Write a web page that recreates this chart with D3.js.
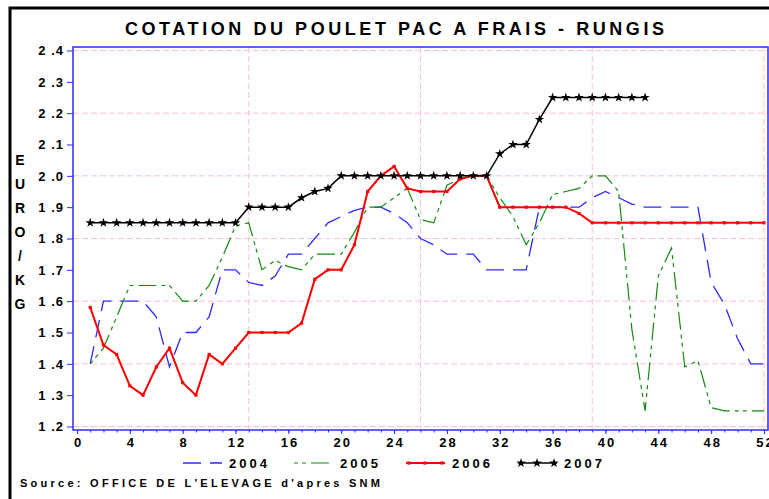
<!DOCTYPE html>
<html>
<head>
<meta charset="utf-8">
<script src="https://cdn.jsdelivr.net/npm/d3@7"></script>
<style>
  body { margin: 0; background: #fff; }
  text { font-family: "Liberation Sans", Arial, sans-serif; font-weight: bold; fill: #000; }
</style>
</head>
<body>
<script>
// weekly prices, euro / kg
const weeks = d3.range(1, 53);
const v2004 = [1.40, 1.60, 1.60, 1.60, 1.60, 1.55, 1.39, 1.50, 1.50, 1.55,
  1.70, 1.70, 1.66, 1.65, 1.68, 1.75, 1.75, 1.80, 1.85, 1.87,
  1.89, 1.90, 1.90, 1.88, 1.85, 1.80, 1.78, 1.75, 1.75, 1.75,
  1.70, 1.70, 1.70, 1.70, 1.90, 1.90, 1.90, 1.90, 1.93, 1.95,
  1.93, 1.91, 1.90, 1.90, 1.90, 1.90, 1.90, 1.66, 1.59, 1.48,
  1.40, 1.40];
const v2005 = [1.40, 1.45, 1.55, 1.65, 1.65, 1.65, 1.65, 1.60, 1.60, 1.65,
  1.74, 1.84, 1.85, 1.70, 1.73, 1.71, 1.70, 1.75, 1.75, 1.75,
  1.82, 1.90, 1.90, 1.93, 1.96, 1.86, 1.85, 1.97, 1.99, 2.00,
  2.00, 1.93, 1.87, 1.78, 1.85, 1.94, 1.95, 1.96, 2.00, 2.00,
  1.95, 1.51, 1.25, 1.68, 1.77, 1.39, 1.41, 1.26, 1.25, 1.25,
  1.25, 1.25];
const v2006 = [1.58, 1.46, 1.43, 1.33, 1.30, 1.39, 1.45, 1.34, 1.30, 1.43,
  1.40, 1.45, 1.50, 1.50, 1.50, 1.50, 1.53, 1.67, 1.70, 1.70,
  1.78, 1.95, 2.00, 2.03, 1.96, 1.95, 1.95, 1.95, 1.99, 2.00,
  2.00, 1.90, 1.90, 1.90, 1.90, 1.90, 1.90, 1.88, 1.85, 1.85,
  1.85, 1.85, 1.85, 1.85, 1.85, 1.85, 1.85, 1.85, 1.85, 1.85,
  1.85, 1.85];
const v2007 = [1.85, 1.85, 1.85, 1.85, 1.85, 1.85, 1.85, 1.85, 1.85, 1.85,
  1.85, 1.85, 1.90, 1.90, 1.90, 1.90, 1.93, 1.95, 1.96, 2.00,
  2.00, 2.00, 2.00, 2.00, 2.00, 2.00, 2.00, 2.00, 2.00, 2.00,
  2.00, 2.07, 2.10, 2.10, 2.18, 2.25, 2.25, 2.25, 2.25, 2.25,
  2.25, 2.25, 2.25];
const years = ["2004", "2005", "2006", "2007"];
const xTicks = [0, 4, 8, 12, 16, 20, 24, 28, 32, 36, 40, 44, 48, 52];
const yTicks = [1.2, 1.3, 1.4, 1.5, 1.6, 1.7, 1.8, 1.9, 2.0, 2.1, 2.2, 2.3, 2.4];
const yGrid = [1.2, 1.4, 1.6, 1.8, 2.0, 2.2, 2.4];
const xGrid = [13, 26, 39, 52];

const width = 769, height = 499;
const frame = {left: 73, right: 768, top: 47, bottom: 430};

const svg = d3.select("body").append("svg")
    .attr("width", width)
    .attr("height", height);

const x = d3.scaleLinear().domain([0, 52]).range([77, 764]);
const y = d3.scaleLinear().domain([1.2, 2.4]).range([426.5, 50.5]);

// outer black border (cut off at right and bottom)
svg.append("path")
    .attr("d", `M10,${height} V8 H${width}`)
    .attr("fill", "none")
    .attr("stroke", "#000")
    .attr("stroke-width", 3);

svg.append("text")
    .attr("x", 125)
    .attr("y", 35)
    .attr("textLength", 539)
    .attr("lengthAdjust", "spacing")
    .style("font-size", "18px")
    .text("COTATION DU POULET PAC A FRAIS - RUNGIS");

// grid
svg.append("g")
  .selectAll("line")
  .data(yGrid)
  .join("line")
    .attr("x1", frame.left)
    .attr("x2", frame.right)
    .attr("y1", d => y(d))
    .attr("y2", d => y(d))
    .attr("stroke", "#ffc0cb")
    .attr("stroke-dasharray", "6,3");

svg.append("g")
  .selectAll("line")
  .data(xGrid)
  .join("line")
    .attr("x1", d => x(d))
    .attr("x2", d => x(d))
    .attr("y1", frame.top)
    .attr("y2", frame.bottom)
    .attr("stroke", "#ffc0cb")
    .attr("stroke-dasharray", "6,3");

// axes
const xAxis = g => g
    .attr("transform", `translate(0,${frame.bottom})`)
    .call(d3.axisBottom(x).tickValues(xTicks).tickSize(4).tickPadding(4).tickFormat(d3.format("d")))
    .call(g => g.select(".domain").remove())
    .call(g => g.selectAll(".tick line").attr("stroke", "#2b2bff"))
    .call(g => g.selectAll(".tick text")
        .attr("font-size", 13)
        .attr("font-family", null)
        .style("letter-spacing", "2px")
        .attr("dx", 1));

const xMinor = g => g
    .attr("transform", `translate(0,${frame.bottom})`)
    .call(d3.axisBottom(x).tickValues(weeks).tickSize(2.5).tickFormat(""))
    .call(g => g.select(".domain").remove())
    .call(g => g.selectAll(".tick line").attr("stroke", "#2b2bff"));

const yAxis = g => g
    .attr("transform", `translate(${frame.left},0)`)
    .call(d3.axisLeft(y).tickValues(yTicks).tickSize(6).tickPadding(3)
        .tickFormat(d => d.toFixed(1).replace(".", " .")))
    .call(g => g.select(".domain").remove())
    .call(g => g.selectAll(".tick line").attr("stroke", "#2b2bff"))
    .call(g => g.selectAll(".tick text")
        .attr("font-size", 13)
        .attr("font-family", null)
        .style("letter-spacing", "1px"));

svg.append("g").call(xMinor);
svg.append("g").call(xAxis);
svg.append("g").call(yAxis);

svg.append("rect")
    .attr("x", frame.left)
    .attr("y", frame.top)
    .attr("width", frame.right - frame.left)
    .attr("height", frame.bottom - frame.top)
    .attr("fill", "none")
    .attr("stroke", "#2b2bff")
    .attr("stroke-width", 1.5);

// y label, one letter per line
const ylab = svg.append("text")
    .attr("text-anchor", "middle")
    .style("font-size", "14px");
ylab.selectAll("tspan")
  .data("EURO/KG".split(""))
  .join("tspan")
    .attr("x", 20)
    .attr("y", (d, i) => 165 + i * 24)
    .text(d => d);

// series
const styles = [
  {values: v2004, color: "#2b2bff", width: 1.3, dash: "18,9", mark: null},
  {values: v2005, color: "#138a13", width: 1.2, dash: "4,4,4,5,18,5", mark: null},
  {values: v2006, color: "#ff0000", width: 2, dash: null, mark: d3.symbolSquare},
  {values: v2007, color: "#000000", width: 1.5, dash: null, mark: d3.symbolStar}
];

const line = d3.line()
    .x(d => x(d[0]))
    .y(d => y(d[1]));

styles.forEach((s, k) => {
  const pts = s.values.map((v, i) => [weeks[i], v]);
  svg.append("path")
      .datum(pts)
      .attr("fill", "none")
      .attr("stroke", s.color)
      .attr("stroke-width", s.width)
      .attr("stroke-dasharray", s.dash)
      .attr("d", line);
  if (s.mark) {
    svg.append("g")
      .selectAll("path")
      .data(pts)
      .join("path")
        .attr("transform", d => `translate(${x(d[0])},${y(d[1])})`)
        .attr("d", d3.symbol(s.mark, s.mark === d3.symbolStar ? 28 : 10))
        .attr("fill", s.color);
  }
});

// legend
const legX = [183, 294, 406, 518];
const leg = svg.append("g")
  .selectAll("g")
  .data(styles)
  .join("g")
    .attr("transform", (d, i) => `translate(${legX[i]},463)`);

leg.append("line")
    .attr("x1", 0)
    .attr("x2", 39)
    .attr("stroke", d => d.color)
    .attr("stroke-width", d => d.width)
    .attr("stroke-dasharray", d => d.dash);

leg.filter(d => d.mark)
  .selectAll("path")
  .data(d => [3, 19, 36].map(p => ({p, d})))
  .join("path")
    .attr("transform", e => `translate(${e.p},0)`)
    .attr("d", e => d3.symbol(e.d.mark, e.d.mark === d3.symbolStar ? 28 : 10)())
    .attr("fill", e => e.d.color);

leg.append("text")
    .attr("x", 46)
    .attr("dy", "0.35em")
    .style("font-size", "13px")
    .style("letter-spacing", "3px")
    .text((d, i) => years[i]);

svg.append("text")
    .attr("x", 20)
    .attr("y", 487)
    .attr("textLength", 360)
    .attr("lengthAdjust", "spacing")
    .style("font-size", "11px")
    .text("Source: OFFICE DE L'ELEVAGE d'apres SNM");
</script>
</body>
</html>
